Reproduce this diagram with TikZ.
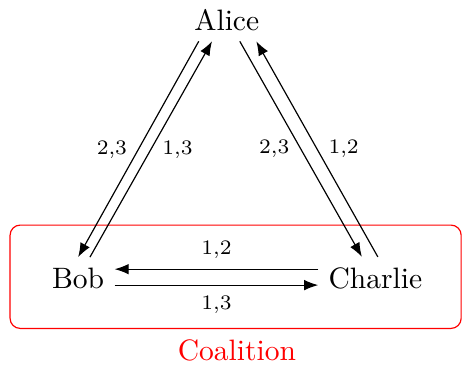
\documentclass[tikz,border=0pt]{standalone}
\usetikzlibrary{arrows.meta}
\tikzset{
  agent/.style={inner sep=0.333em},
  lbl/.style={font=\scriptsize, inner sep=1pt},
  flow/.style={-{Latex}},
  coal/.style={draw=red, rounded corners=0.12cm},
}
\begin{document}
\begin{tikzpicture}
    \useasboundingbox (0,0) rectangle (5.50,4.37);
    \node[agent] (alice) at (2.70,4.13) {Alice};
    \node[agent] (bob) at (0.93,1.06) {Bob};
    \node[agent] (charlie) at (4.47,1.06) {Charlie};
    \node[red] (coalition) at (2.82,0.20) {Coalition};
    \draw[coal] (0.12,0.46) rectangle (5.49,1.69);
    \draw[flow] ([xshift=-9.5pt]alice.south) -- (bob.north) node[lbl, midway, xshift=-9pt] (ab) {2,3};
    \draw[flow] ([xshift=4pt]bob.north) -- ([xshift=-5pt]alice.south) node[lbl, midway, xshift=9pt] (ba) {1,3};
    \draw[flow] ([xshift=4.4pt]alice.south) -- ([xshift=-4.6pt]charlie.north) node[lbl, midway, xshift=-9pt] (ac) {2,3};
    \draw[flow] ([xshift=0.8pt]charlie.north) -- ([xshift=10pt]alice.south) node[lbl, midway, xshift=9pt] (ca) {1,2};
    \draw[flow] ([yshift=3pt]charlie.west) -- ([yshift=3pt]bob.east) node[lbl, midway, yshift=6.5pt] (cb) {1,2};
    \draw[flow] ([yshift=-2.4pt]bob.east) -- ([yshift=-2.4pt]charlie.west) node[lbl, midway, yshift=-6.5pt] (bc) {1,3};
  \end{tikzpicture}
\end{document}
